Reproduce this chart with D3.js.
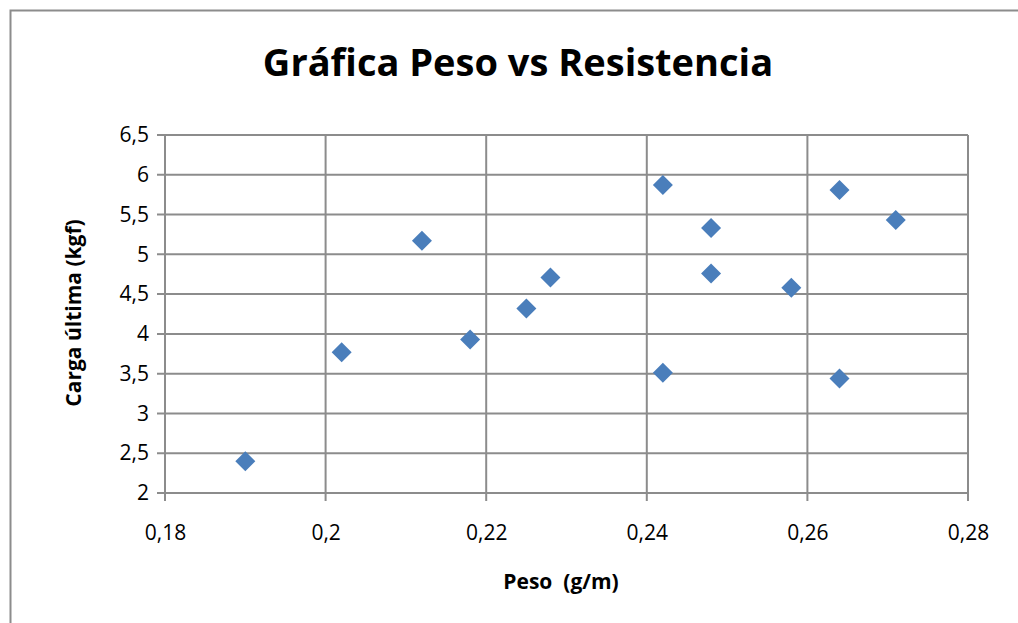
<!DOCTYPE html>
<html>
<head>
<meta charset="utf-8">
<script src="https://cdn.jsdelivr.net/npm/d3@7"></script>
<style>
  body { margin: 0; background: #fff; }
  svg { display: block; font-family: "Open Sans", "Noto Sans", sans-serif; }
</style>
</head>
<body>
<script>
// datos
var peso = [0.190, 0.202, 0.212, 0.218, 0.225, 0.228, 0.242, 0.242, 0.248, 0.248, 0.258, 0.264, 0.264, 0.271];
var carga = [2.40, 3.77, 5.17, 3.93, 4.32, 4.71, 5.87, 3.51, 5.33, 4.76, 4.58, 5.81, 3.44, 5.43];
var xTicks = [0.18, 0.2, 0.22, 0.24, 0.26, 0.28];
var yTicks = [2, 2.5, 3, 3.5, 4, 4.5, 5, 5.5, 6, 6.5];

var W = 1018, H = 623;
var margin = {top: 135, right: 50, bottom: 130, left: 165};
var width = 968 - margin.left;
var height = 493 - margin.top;

var svg = d3.select("body").append("svg")
  .attr("width", W)
  .attr("height", H);

// marco exterior
svg.append("path")
  .attr("d", "M10.5," + H + "V10.5H" + W)
  .attr("fill", "none")
  .attr("stroke", "#8c8c8c")
  .attr("stroke-width", 2);

// titulo
svg.append("text")
  .attr("x", 518)
  .attr("y", 76)
  .attr("text-anchor", "middle")
  .attr("font-size", "38px")
  .attr("font-weight", "bold")
  .attr("fill", "#000")
  .text("Gráfica Peso vs Resistencia");

var g = svg.append("g")
  .attr("transform", "translate(" + margin.left + "," + margin.top + ")");

var x = d3.scaleLinear().domain([0.18, 0.28]).range([0, width]);
var y = d3.scaleLinear().domain([2, 6.5]).range([height, 0]);

var fmt = function(d) { return String(+d.toFixed(2)).replace(".", ","); };

// rejilla
g.selectAll(".hgrid")
  .data(yTicks)
  .enter().append("line")
  .attr("x1", -8).attr("x2", width)
  .attr("y1", function(d) { return y(d); })
  .attr("y2", function(d) { return y(d); })
  .attr("stroke", "#8c8c8c")
  .attr("stroke-width", 2);

g.selectAll(".vgrid")
  .data(xTicks)
  .enter().append("line")
  .attr("x1", function(d) { return x(d); })
  .attr("x2", function(d) { return x(d); })
  .attr("y1", 0).attr("y2", height + 8)
  .attr("stroke", "#8c8c8c")
  .attr("stroke-width", 2);

// ejes
var yAxis = g.append("g")
  .call(d3.axisLeft(y).tickValues(yTicks).tickFormat(fmt).tickSize(0).tickPadding(16));
var xAxis = g.append("g")
  .attr("transform", "translate(0," + height + ")")
  .call(d3.axisBottom(x).tickValues(xTicks).tickFormat(fmt).tickSize(0).tickPadding(32));
[yAxis, xAxis].forEach(function(a) {
  a.select(".domain").remove();
  a.selectAll("text")
    .attr("font-family", "'Open Sans', 'Noto Sans', sans-serif")
    .attr("font-size", "21px")
    .attr("fill", "#000");
});

// puntos (rombos)
g.selectAll(".pt")
  .data(peso)
  .enter().append("path")
  .attr("d", "M0,-10L10,0L0,10L-10,0Z")
  .attr("transform", function(d, i) { return "translate(" + x(d) + "," + y(carga[i]) + ")"; })
  .attr("fill", "#4a7ebb");

// titulos de ejes
svg.append("text")
  .attr("x", 561)
  .attr("y", 589)
  .attr("text-anchor", "middle")
  .attr("font-size", "21px")
  .attr("font-weight", "bold")
  .attr("xml:space", "preserve")
  .text("Peso  (g/m)");

svg.append("text")
  .attr("transform", "translate(81,313) rotate(-90)")
  .attr("text-anchor", "middle")
  .attr("font-size", "21px")
  .attr("font-weight", "bold")
  .text("Carga última (kgf)");
</script>
</body>
</html>
